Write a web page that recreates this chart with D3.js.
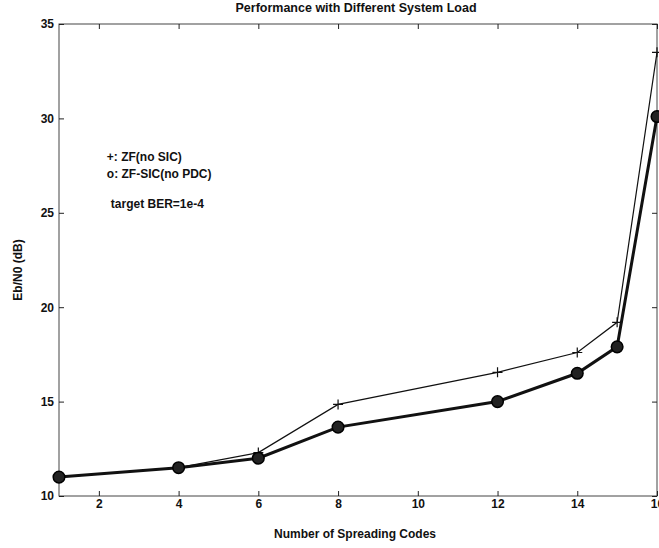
<!DOCTYPE html>
<html><head><meta charset="utf-8">
<script src="https://cdn.jsdelivr.net/npm/d3@7/dist/d3.min.js"></script>
<style>body{margin:0;background:#fff;} text{font-family:"Liberation Sans",Arial,sans-serif;}</style>
</head><body>
<svg id="c" width="659" height="548"></svg>
<script>
const codes = [1, 4, 6, 8, 12, 14, 15, 16];
const zfNoSic = [11.0, 11.5, 12.3, 14.85, 16.55, 17.6, 19.2, 33.5];
const zfSic = [11.0, 11.5, 12.0, 13.65, 15.0, 16.5, 17.9, 30.1];
const xTicks = [2, 4, 6, 8, 10, 12, 14, 16];
const yTicks = [10, 15, 20, 25, 30, 35];
const title = "Performance with Different System Load";
const xLabel = "Number of Spreading Codes";
const yLabel = "Eb/N0 (dB)";
const notes = [
  {text: "+: ZF(no SIC)", x: 2.2, y: 27.95},
  {text: "o: ZF-SIC(no PDC)", x: 2.2, y: 27.05},
  {text: "target BER=1e-4", x: 2.3, y: 25.45}
];

const svg = d3.select("#c");
const L = 59, R = 657, T = 24, B = 496;
const x = d3.scaleLinear().domain([1, 16]).range([L, R]);
const y = d3.scaleLinear().domain([10, 35]).range([B, T]);

// frame
svg.append("rect").attr("x", L).attr("y", T).attr("width", R - L).attr("height", B - T)
  .attr("fill", "none").attr("stroke", "#444").attr("stroke-width", 1);

// ticks inward
const g = svg.append("g");
g.append("g").attr("transform", `translate(0,${B})`)
  .call(d3.axisBottom(x).tickValues(xTicks).tickSizeInner(-5).tickSizeOuter(0).tickPadding(3))
  .call(s => s.select(".domain").remove());
g.append("g").attr("transform", `translate(0,${T})`)
  .call(d3.axisTop(x).tickValues(xTicks).tickSizeInner(-5).tickSizeOuter(0).tickFormat(""))
  .call(s => s.select(".domain").remove());
g.append("g").attr("transform", `translate(${L},0)`)
  .call(d3.axisLeft(y).tickValues(yTicks).tickSizeInner(-5).tickSizeOuter(0).tickPadding(5))
  .call(s => s.select(".domain").remove());
g.append("g").attr("transform", `translate(${R},0)`)
  .call(d3.axisRight(y).tickValues(yTicks).tickSizeInner(-5).tickSizeOuter(0).tickFormat(""))
  .call(s => s.select(".domain").remove());
g.selectAll(".tick line").attr("stroke", "#222");
g.selectAll(".tick text").attr("font-size", 12).attr("font-weight", "bold")
  .attr("font-family", "'Liberation Sans', Arial, sans-serif").attr("fill", "#111");

// series
const line = d3.line().x((d, i) => x(codes[i])).y(d => y(d));
svg.append("path").datum(zfNoSic).attr("d", line).attr("fill", "none")
  .attr("stroke", "#111").attr("stroke-width", 1.2);
svg.append("path").datum(zfSic).attr("d", line).attr("fill", "none")
  .attr("stroke", "#111").attr("stroke-width", 3);

// plus markers
svg.append("g").selectAll("path").data(zfNoSic).join("path")
  .attr("d", (d, i) => { const cx = x(codes[i]), cy = y(d), s = 5;
    return `M${cx - s},${cy}H${cx + s}M${cx},${cy - s}V${cy + s}`; })
  .attr("stroke", "#111").attr("stroke-width", 1.2);
// circle markers
svg.append("g").selectAll("circle").data(zfSic).join("circle")
  .attr("cx", (d, i) => x(codes[i])).attr("cy", d => y(d)).attr("r", 5.8)
  .attr("fill", "#222").attr("stroke", "#000").attr("stroke-width", 1.5);

// texts
svg.append("text").attr("x", 356).attr("y", 12).attr("text-anchor", "middle")
  .attr("font-size", 12.5).attr("font-weight", "bold").attr("fill", "#111").text(title);
svg.append("text").attr("x", 355).attr("y", 538).attr("text-anchor", "middle")
  .attr("font-size", 12).attr("font-weight", "bold").attr("fill", "#111").text(xLabel);
svg.append("text").attr("transform", `translate(22,270) rotate(-90)`)
  .attr("text-anchor", "middle").attr("font-size", 12).attr("font-weight", "bold")
  .attr("fill", "#111").text(yLabel);
svg.append("g").selectAll("text").data(notes).join("text")
  .attr("x", d => x(d.x)).attr("y", d => y(d.y) + 4)
  .attr("font-size", 12).attr("font-weight", "bold").attr("fill", "#111").text(d => d.text);
</script>
</body></html>
